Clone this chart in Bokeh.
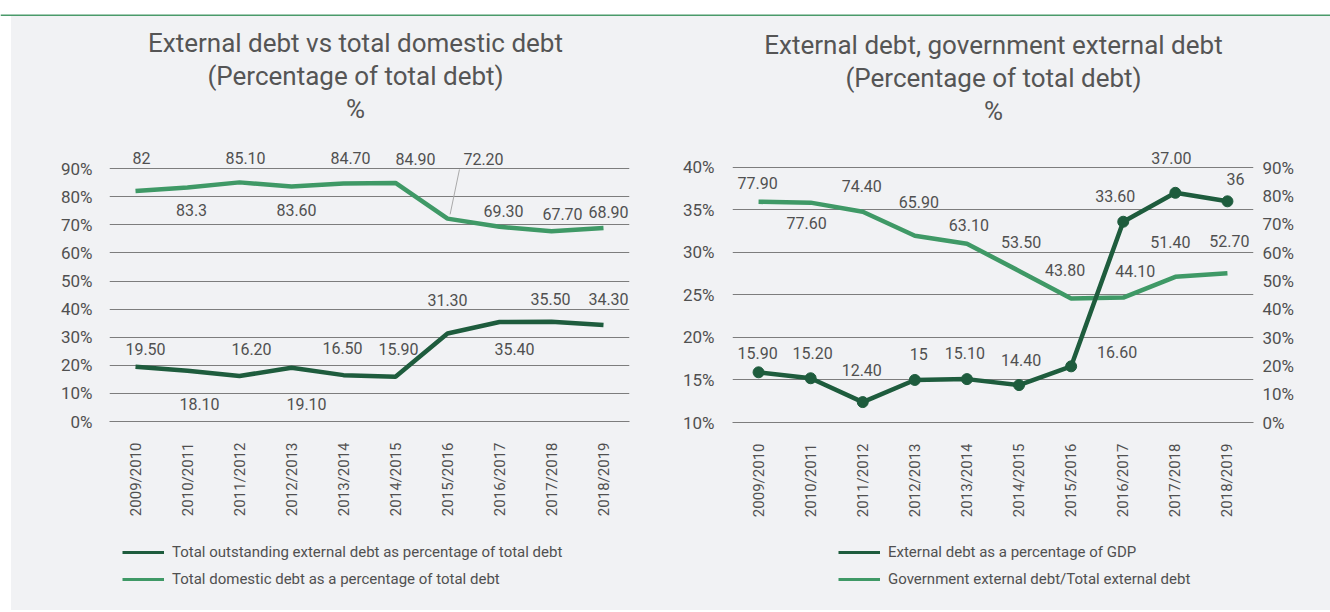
import math
from bokeh.plotting import figure
from bokeh.models import (FactorRange, Range1d, LinearAxis, FixedTicker, PrintfTickFormatter,
                          Legend, LegendItem, ColumnDataSource, Spacer, BoxAnnotation)
from bokeh.layouts import row, column
from bokeh.core.properties import value
from bokeh.embed import file_html
from bokeh.resources import INLINE

# ---------------- data ----------------
years = ["2009/2010", "2010/2011", "2011/2012", "2012/2013", "2013/2014",
         "2014/2015", "2015/2016", "2016/2017", "2017/2018", "2018/2019"]

ext_share = [19.50, 18.10, 16.20, 19.10, 16.50, 15.90, 31.30, 35.40, 35.50, 34.30]
ext_share_text = ["19.50", "18.10", "16.20", "19.10", "16.50", "15.90", "31.30", "35.40", "35.50", "34.30"]
dom_share = [82, 83.3, 85.10, 83.60, 84.70, 84.90, 72.20, 69.30, 67.70, 68.90]
dom_share_text = ["82", "83.3", "85.10", "83.60", "84.70", "84.90", "72.20", "69.30", "67.70", "68.90"]

ext_gdp = [15.90, 15.20, 12.40, 15, 15.10, 14.40, 16.60, 33.60, 37.00, 36]
ext_gdp_text = ["15.90", "15.20", "12.40", "15", "15.10", "14.40", "16.60", "33.60", "37.00", "36"]
gov_ext = [77.90, 77.60, 74.40, 65.90, 63.10, 53.50, 43.80, 44.10, 51.40, 52.70]
gov_ext_text = ["77.90", "77.60", "74.40", "65.90", "63.10", "53.50", "43.80", "44.10", "51.40", "52.70"]

left_ticks = [0, 10, 20, 30, 40, 50, 60, 70, 80, 90]
gdp_ticks = [10, 15, 20, 25, 30, 35, 40]
gov_ticks = [0, 10, 20, 30, 40, 50, 60, 70, 80, 90]

title1 = ["External debt vs total domestic debt", "(Percentage of total debt)", "%"]
title2 = ["External debt, government external debt", "(Percentage of total debt)", "%"]
legend1 = ["Total outstanding external debt as percentage of total debt",
           "Total domestic debt as a percentage of total debt"]
legend2 = ["External debt as a percentage of GDP",
           "Government external debt/Total external debt"]

# ---------------- label placement (pixel offsets) ----------------
ext_share_dx = [10, 12, 12, 15, -1, 3, 0, 15, -1, 5]
ext_share_dy = [-18, 33, -27, 36, -27, -28, -34, 27, -23, -26]
dom_share_dx = [6, 4, 6, 5, 7, 20, 36, 4, 11, 5]
dom_share_dy = [-33, 23, -24, 23, -25, -24, -60, -16, -17, -16]
ext_gdp_dx = [-1, 2, -1, 4, -2, 2, 46, -8, -4, 8]
ext_gdp_dy = [-19, -25, -32, -26, -26, -25, -14, -26, -35, -22]
gov_ext_dx = [-1, -4, -1, 4, 2, 2, -6, 12, -5, 2]
gov_ext_dy = [-19, 20, -26, -34, -19, -29, -28, -27, -35, -32]

# ---------------- style / layout ----------------
FONT = "Roboto"
BG = "#f1f2f4"
DARK = "#1e5c3d"
LIGHT = "#3f9966"
RULE = "#4a9a6a"
GRID = "#7d7d7d"
TXT = "#505050"
TITLE_C = "#555555"
TOP_H = 16
CHART_H = 514
LEG_H = 80
TITLE_ROWS = [405, 372, 339]   # title line centres, px above the frame bottom

L_PX = 2.81      # left chart: px per percent
R_PX = 8.507     # right chart, left axis: px per percent
R2_PX = 2.8333   # right chart, right axis: px per percent


def style_axis(ax, size, standoff):
    ax.major_label_text_font = FONT
    ax.major_label_text_font_size = size
    ax.major_label_text_color = TXT
    ax.major_label_standoff = standoff
    ax.major_tick_line_color = None
    ax.minor_tick_line_color = None
    ax.major_tick_out = 0
    ax.major_tick_in = 0
    ax.minor_tick_out = 0
    ax.minor_tick_in = 0


def base_fig(width, left, right, bottom, yr, ticks, ystandoff):
    p = figure(width=width, height=CHART_H, x_range=FactorRange(*years),
               y_range=yr, output_backend="svg", toolbar_location=None,
               min_border_left=left, min_border_right=right,
               min_border_top=0, min_border_bottom=bottom)
    p.title_location = None
    p.background_fill_color = BG
    p.border_fill_color = BG
    p.outline_line_color = None
    p.xgrid.grid_line_color = None
    p.ygrid.ticker = FixedTicker(ticks=ticks)
    p.ygrid.grid_line_color = GRID
    p.ygrid.grid_line_width = 1
    xa = p.xaxis[0]
    style_axis(xa, "15px", 21)
    xa.major_label_orientation = math.pi / 2
    xa.axis_line_color = GRID
    ya = p.yaxis[0]
    style_axis(ya, "17px", ystandoff)
    ya.ticker = FixedTicker(ticks=ticks)
    ya.formatter = PrintfTickFormatter(format="%d%%")
    ya.axis_line_color = None
    return p


def add_labels(p, vals, texts, dx, dy, y_range_name="default"):
    src = ColumnDataSource(dict(x=years, y=vals, t=texts, dx=dx, dy=dy))
    p.text(x="x", y="y", text="t", x_offset="dx", y_offset="dy", source=src,
           text_font=value(FONT), text_font_size="16px", text_color=TXT,
           text_align="center", text_baseline="middle", y_range_name=y_range_name)


def add_title(p, lines, cx, ys):
    p.text(x=[cx] * len(lines), y=ys, text=lines, text_font=value(FONT),
           text_font_size="26px", text_color=TITLE_C,
           text_align="center", text_baseline="middle")


def legend_fig(width, names, series, colors, vx):
    lf = figure(width=width, height=LEG_H, x_range=Range1d(0, 1), y_range=Range1d(0, 1),
                x_axis_type=None, y_axis_type=None, output_backend="svg",
                toolbar_location=None, min_border=0)
    lf.title_location = None
    lf.background_fill_color = BG
    lf.border_fill_color = BG
    lf.outline_line_color = None
    lf.xgrid.visible = False
    lf.ygrid.visible = False
    items = []
    for name, vals, col in zip(names, series, colors):
        # the series itself, lying outside this strip's view: only its legend swatch shows
        r = lf.line(x=list(range(len(vals))), y=vals, line_color=col, line_width=3)
        items.append(LegendItem(label=name, renderers=[r]))
    lg = Legend(items=items, location=(vx, 21))
    lg.background_fill_alpha = 0
    lg.border_line_color = None
    lg.padding = 0
    lg.margin = 0
    lg.spacing = 7
    lg.glyph_width = 42
    lg.glyph_height = 20
    lg.label_height = 20
    lg.label_standoff = 8
    lg.label_text_font = FONT
    lg.label_text_font_size = "15px"
    lg.label_text_color = TXT
    lg.label_text_baseline = "middle"
    lf.add_layout(lg)
    return lf


# ---------------- top rule ----------------
topf = figure(width=1330, height=TOP_H, x_range=Range1d(0, 1), y_range=Range1d(0, TOP_H),
              x_axis_type=None, y_axis_type=None, output_backend="svg",
              toolbar_location=None, min_border=0)
topf.title_location = None
topf.background_fill_color = "#ffffff"
topf.border_fill_color = "#ffffff"
topf.outline_line_color = None
topf.xgrid.visible = False
topf.ygrid.visible = False
topf.add_layout(BoxAnnotation(bottom=0, top=2, fill_color=RULE, fill_alpha=1, line_color=None))

# ---------------- left chart ----------------
p1 = base_fig(659, 98, 41, 109, Range1d(0, 405 / L_PX), left_ticks, 17)
p1.line(years, ext_share, line_color=DARK, line_width=4.5)
p1.line(years, dom_share, line_color=LIGHT, line_width=4.5)
add_labels(p1, ext_share, ext_share_text, ext_share_dx, ext_share_dy)
add_labels(p1, dom_share, dom_share_text, dom_share_dx, dom_share_dy)
# leader line for the displaced 2015/2016 label
i6 = 6
p1.segment(x0=[i6 + 0.5 + 0.05], y0=[dom_share[i6] + 1.5],
           x1=[i6 + 0.5 + 0.23], y1=[dom_share[i6] + 17.5],
           line_color="#aaaaaa", line_width=1)
add_title(p1, title1, 246 / 52, [r / L_PX - 26 / L_PX for r in TITLE_ROWS])
lf1 = legend_fig(659, legend1, [ext_share, dom_share], [DARK, LIGHT], 13)

# ---------------- right chart ----------------
p2 = base_fig(660, 62, 77, 108, Range1d(10, 10 + 406 / R_PX), gdp_ticks, 18)
p2.extra_y_ranges = {"right": Range1d(0, 406 / R2_PX)}
ra = LinearAxis(y_range_name="right", ticker=FixedTicker(ticks=gov_ticks),
                formatter=PrintfTickFormatter(format="%d%%"))
style_axis(ra, "17px", 9)
ra.axis_line_color = None
p2.add_layout(ra, "right")
p2.line(years, gov_ext, line_color=LIGHT, line_width=4.5, y_range_name="right")
p2.line(years, ext_gdp, line_color=DARK, line_width=4.5)
p2.scatter(years, ext_gdp, size=11, fill_color=DARK, line_color=DARK)
add_labels(p2, ext_gdp, ext_gdp_text, ext_gdp_dx, ext_gdp_dy)
add_labels(p2, gov_ext, gov_ext_text, gov_ext_dx, gov_ext_dy, y_range_name="right")
add_title(p2, title2, 261 / 52.1, [10 + r / R_PX - 27 / R_PX for r in TITLE_ROWS])
lf2 = legend_fig(660, legend2, [ext_gdp, gov_ext], [DARK, LIGHT], 106)

gray = {"background-color": BG}
left_pad = Spacer(width=11, height=CHART_H + LEG_H, margin=0,
                  styles={"background-color": "#ffffff"})
layout = column(topf, row(left_pad,
                          column(p1, lf1, styles=gray),
                          column(p2, lf2, styles=gray),
                          styles=gray))

open("out.html", "w").write(file_html(layout, INLINE))
